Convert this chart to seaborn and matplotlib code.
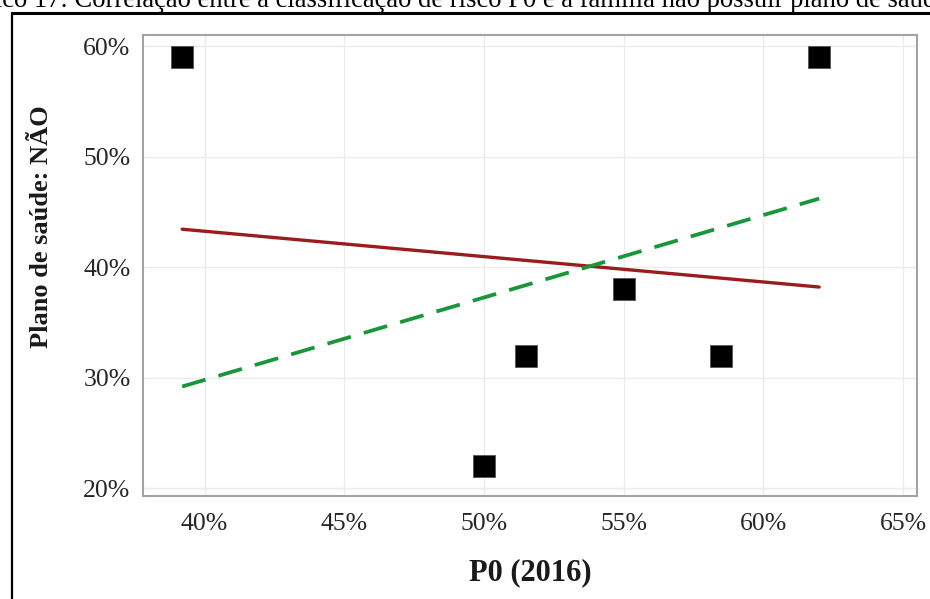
import numpy as np
import pandas as pd
import seaborn as sns
import matplotlib
matplotlib.use("Agg")
import matplotlib.pyplot as plt
from matplotlib.lines import Line2D
from matplotlib.ticker import PercentFormatter

# Risk class P0 (2016) vs share of families without a health plan, in %
p0_2016 = [39.2, 50.0, 51.5, 55.0, 58.5, 62.0]
sem_plano = [59.0, 22.0, 32.0, 38.0, 32.0, 59.0]

# Reference trend (dashed), given by its two end values
ref_x = [39.2, 62.0]
ref_y = [29.2, 46.2]

x_ticks = [40, 45, 50, 55, 60, 65]
y_ticks = [20, 30, 40, 50, 60]

title = ("Gráfico 17: Correlação entre a classificação de risco P0 e a "
         "família não possuir plano de saúde")
x_label = "P0 (2016)"
y_label = "Plano de saúde: NÃO"

sns.set_theme(style="whitegrid")
plt.rcParams["font.family"] = ["Liberation Serif", "DejaVu Serif"]

df = pd.DataFrame({"p0": p0_2016, "nao": sem_plano})
ref = pd.DataFrame({"x": ref_x, "y": ref_y})

fig = plt.figure(figsize=(9.30, 5.99), dpi=100)
ax = fig.add_axes([0.1538, 0.172, 0.8322, 0.7696])

sns.regplot(data=df, x="p0", y="nao", ax=ax, ci=None, scatter=False,
            truncate=True, line_kws=dict(color="#9b1c1c", lw=2.4, zorder=3))
sns.lineplot(data=ref, x="x", y="y", ax=ax, color="#17963a", lw=2.7,
             dashes=False, zorder=3)
ax.lines[-1].set_dashes([6.5, 3.6])
sns.scatterplot(data=df, x="p0", y="nao", ax=ax, marker="s", s=235,
                color="black", edgecolor="#555555", linewidth=0.6, zorder=4)

ax.set_xlim(37.8, 65.5)
ax.set_ylim(19.3, 61.0)
ax.set_xticks(x_ticks)
ax.set_yticks(y_ticks)
ax.xaxis.set_major_formatter(PercentFormatter(decimals=0))
ax.yaxis.set_major_formatter(PercentFormatter(decimals=0))

ax.grid(True, color="#ececec", lw=1.0)
for sp in ax.spines.values():
    sp.set_color("#a3a3a3")
    sp.set_linewidth(1.5)
ax.tick_params(axis="both", which="major", direction="out", length=6,
               width=1.3, color="#8c8c8c", labelsize=18.5,
               labelcolor="#262626")
ax.tick_params(axis="x", pad=6)
ax.tick_params(axis="y", pad=3)

ax.set_xlabel(x_label, fontsize=22, fontweight="bold", color="#1a1a1a")
ax.set_ylabel(y_label, fontsize=19, fontweight="bold", color="#1a1a1a")
ax.xaxis.set_label_coords(0.5, -0.135)
ax.yaxis.set_label_coords(-0.116, 0.585)

# Page title above the framed chart
fig.text(0.481, 1 - 7 / 599, title, ha="center", va="baseline",
         fontsize=19.2, color="black")

# Frame around the chart
fig.add_artist(Line2D([12 / 930, 12 / 930], [0, 1 - 13 / 599],
                      transform=fig.transFigure, color="black", lw=1.6))
fig.add_artist(Line2D([12 / 930, 1], [1 - 13 / 599, 1 - 13 / 599],
                      transform=fig.transFigure, color="black", lw=2.2))

fig.savefig("out.png", dpi=100)
